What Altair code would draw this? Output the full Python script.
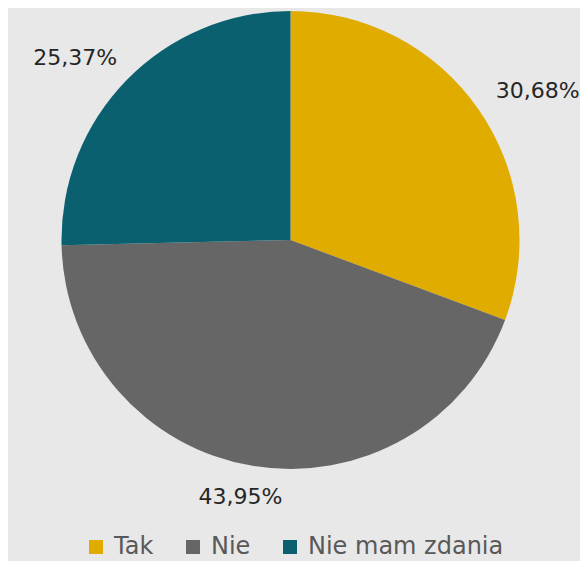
import altair as alt
import pandas as pd

categories = ["Tak", "Nie", "Nie mam zdania"]
values = [30.68, 43.95, 25.37]
labels = ["30,68%", "43,95%", "25,37%"]
colors = ["#E1AC00", "#666666", "#0A606E"]
order = [0, 1, 2]

df = pd.DataFrame({"cat": categories, "val": values, "label": labels, "ord": order})

CX, CY, R = 282.5, 232, 229
RX, RY = 301, 261

color_enc = alt.Color(
    "cat:N",
    scale=alt.Scale(domain=categories, range=colors),
    sort=categories,
    legend=alt.Legend(
        title=None,
        orient="none",
        legendX=76,
        legendY=527,
        direction="horizontal",
        symbolType="square",
        symbolSize=196,
        symbolStrokeWidth=0,
        labelFont="DejaVu Sans",
        labelFontSize=24,
        labelColor="#595959",
        labelOffset=6,
        labelLimit=400,
        columnPadding=27,
        padding=0,
    ),
)

base = alt.Chart(df)

pie = base.mark_arc(radius=R, stroke=None).encode(
    theta=alt.Theta("val:Q", stack=True),
    order=alt.Order("ord:Q"),
    color=color_enc,
    x=alt.value(CX),
    y=alt.value(CY),
)

text = base.transform_joinaggregate(
    total="sum(val)"
).transform_window(
    cum="sum(val)", sort=[alt.SortField("ord")], frame=[None, 0]
).transform_calculate(
    mid="(datum.cum - datum.val/2)/datum.total*2*PI",
).transform_calculate(
    lx=f"{CX} + {RX}*sin(datum.mid)",
    ly=f"{CY} - {RY}*cos(datum.mid)",
).mark_text(
    font="DejaVu Sans", fontSize=22, color="#262626", baseline="middle"
).encode(
    x=alt.X("lx:Q", scale=None),
    y=alt.Y("ly:Q", scale=None),
    text="label:N",
)

chart = alt.layer(pie, text).properties(
    width=572, height=553, autosize=alt.AutoSizeParams(type="none"), padding=0,
    background="#E8E8E8",
).configure_view(stroke=None)

chart.save("out.html", embed_options={"renderer": "svg", "actions": False})
